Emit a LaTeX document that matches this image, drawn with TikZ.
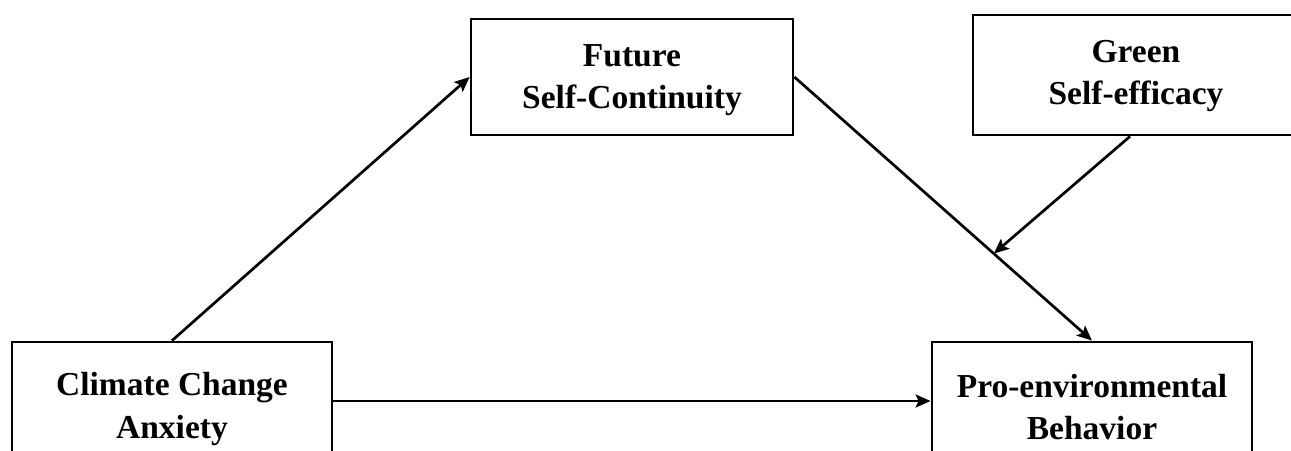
\documentclass[tikz,border=0pt]{standalone}
\usepackage{fontspec}
\setmainfont{Liberation Serif}
\usetikzlibrary{arrows.meta,calc}
\begin{document}
\begin{tikzpicture}[x=1pt,y=-1pt,
  box/.style={draw=black, line width=2.8pt, rectangle, inner sep=0pt},
  txt/.style={inner sep=0pt, align=center, text=black,
    font=\bfseries\fontsize{33.5}{42.5}\selectfont},
  conn/.style={draw=black, line width=2.7pt,
    -{Stealth[length=15pt,width=13pt,inset=3pt]}}]
\useasboundingbox (0,0) rectangle (1291,450);
\node[box, minimum width=322pt, minimum height=116pt] (fut) at (632,77) {};
\node[box, minimum width=326pt, minimum height=120pt] (grn) at (1136,75) {};
\node[box, minimum width=320pt, minimum height=118pt] (cca) at (172,401) {};
\node[box, minimum width=320pt, minimum height=118pt] (peb) at (1092,401) {};
\node[txt] (futt) at ($(fut.center)+(0,3)$) {Future\\Self-Continuity};
\node[txt] (grnt) at ($(grn.center)+(0,1)$) {Green\\Self-efficacy};
\node[txt] (ccat) at ($(cca.center)+(0,8)$) {Climate Change\\Anxiety};
\node[txt] (pebt) at ($(peb.center)+(0,6)$) {Pro-environmental\\Behavior};
\coordinate (mod) at ($(fut.east)!0.67!(peb.north)$);
\draw[conn] (cca.north) -- (fut.west);
\draw[conn] (fut.east) -- (peb.north);
\draw[conn] (cca.east) -- (peb.west);
\draw[conn] ([xshift=-6pt]grn.south) -- (mod);
\end{tikzpicture}
\end{document}
